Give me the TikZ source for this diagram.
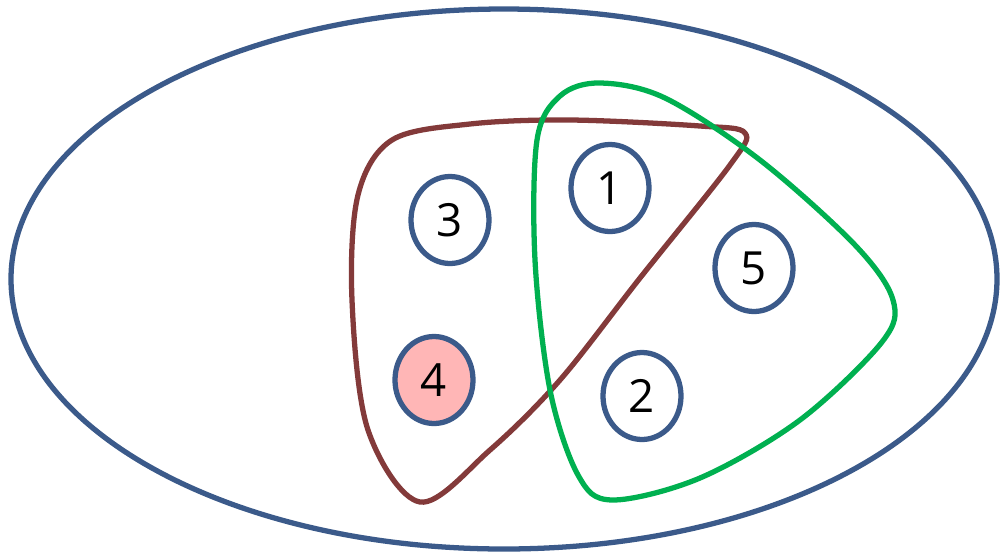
\documentclass[tikz,border=0pt]{standalone}
\usepackage{fontspec}
\setsansfont{Open Sans}
\usetikzlibrary{shapes.geometric}
\definecolor{setblue}{RGB}{59,90,138}
\definecolor{setbrown}{RGB}{131,58,58}
\definecolor{setgreen}{RGB}{0,176,80}
\definecolor{hitpink}{RGB}{255,182,182}

\begin{document}
\begin{tikzpicture}[x=0.1mm,y=-0.1mm,every node/.style={font=\sffamily\fontsize{13}{15}\selectfont},
  elem/.style={ellipse,draw=setblue,line width=1.5pt,fill=white,
    minimum width=7.8mm,minimum height=8.7mm,inner sep=0pt},
  hull/.style={line width=1.5pt,smooth cycle,tension=0.55}]
  \useasboundingbox (0,0) rectangle (1000,556);
  \node[ellipse,draw=setblue,line width=1.5pt,minimum width=98.6mm,
    minimum height=54.0mm] (univ) at (504,279) {};
  \node[elem] (e3) at (450,220) {3};
  \node[elem] (e1) at (610,188) {1};
  \node[elem] (e5) at (754,268) {5};
  \node[elem,fill=hitpink] (e4) at (434,380) {4};
  \node[elem] (e2) at (642,396) {2};
  % the two sets
  \draw[setbrown,hull] plot coordinates {(420,502) (368,430) (352,300)
    (358,195) (392,140) (470,124) (570,120) (700,126) (745,133) (730,165)
    (640,278) (560,380) (490,450)};
  \draw[setgreen,hull] plot coordinates {(537,140) (560,96) (600,83)
    (665,98) (760,160) (855,245) (893,300) (882,342) (800,420) (700,478)
    (612,500) (578,475) (550,390) (535,260)};
\end{tikzpicture}
\end{document}
